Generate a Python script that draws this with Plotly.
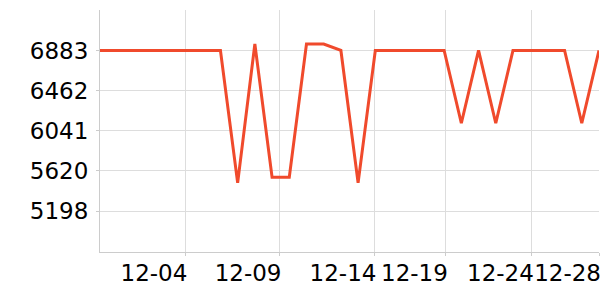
import plotly.graph_objects as go

# Data
day_index = list(range(30))
values = [6883, 6883, 6883, 6883, 6883, 6883, 6883, 6883,
          5495, 6950, 5553, 5553, 6950, 6950, 6883, 5495,
          6883, 6883, 6883, 6883, 6883, 6120, 6883, 6120,
          6883, 6883, 6883, 6883, 6120, 6883]
x_tick_pos = [4.96, 10.43, 15.95, 20.1, 25.1, 29]
x_tick_text = ["12-04", "12-09", "12-14", "12-19", "12-24", "12-28"]
y_tick_vals = [5198, 5620, 6041, 6462, 6883]
y_tick_text = ["5198", "5620", "6041", "6462", "6883"]

fig = go.Figure()
fig.add_trace(go.Scatter(
    x=day_index, y=values, mode="lines",
    line=dict(color="#f04a2c", width=3),
    hoverinfo="skip", showlegend=False,
))

font = dict(family="DejaVu Sans", size=23, color="#000000")

fig.update_layout(
    width=600, height=300,
    margin=dict(l=100, r=1, t=10, b=48),
    paper_bgcolor="white", plot_bgcolor="white",
    font=font,
    xaxis=dict(
        range=[0, 29], automargin=False,
        tickmode="array", tickvals=x_tick_pos, ticktext=x_tick_text,
        ticklabelposition="outside left", tickangle=0,
        ticklabelshift=3, ticklabeloverflow="allow",
        showgrid=True, gridcolor="#dddddd", gridwidth=1,
        showline=True, linecolor="#cccccc", linewidth=1,
        ticks="outside", ticklen=3, tickcolor="#cccccc",
        zeroline=False, tickfont=font,
    ),
    yaxis=dict(
        range=[4770, 7307], automargin=False,
        tickmode="array", tickvals=y_tick_vals, ticktext=y_tick_text,
        ticklabelstandoff=3,
        showgrid=True, gridcolor="#dddddd", gridwidth=1,
        showline=True, linecolor="#cccccc", linewidth=1,
        ticks="outside", ticklen=3, tickcolor="#cccccc",
        zeroline=False, tickfont=font,
    ),
)

fig.write_html("out.html")
